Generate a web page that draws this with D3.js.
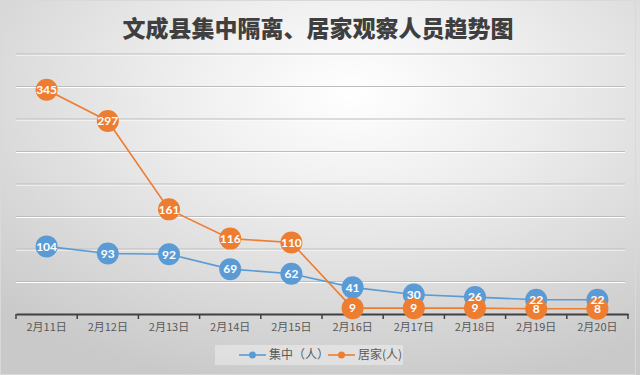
<!DOCTYPE html>
<html>
<head>
<meta charset="utf-8">
<script src="https://cdn.jsdelivr.net/npm/d3@7"></script>
<style>
  html, body { margin: 0; padding: 0; background: #fff; }
  svg { display: block; }
</style>
</head>
<body>
<div id="chart"></div>
<script>
// Chart data
const title = '文成县集中隔离、居家观察人员趋势图';
const dates = ['2月11日', '2月12日', '2月13日', '2月14日', '2月15日', '2月16日', '2月17日', '2月18日', '2月19日', '2月20日'];
const seriesNames = ['集中（人）', '居家(人)'];
const centralized = [104, 93, 92, 69, 62, 41, 30, 26, 22, 22];
const atHome = [345, 297, 161, 116, 110, 9, 9, 9, 8, 8];
const gridValues = [0, 50, 100, 150, 200, 250, 300, 350, 400];

const width = 640, height = 375;
const colors = ['#5B9BD5', '#ED7D31'];
const margin = { top: 54, right: 12, bottom: 61, left: 16 };

const svg = d3.select('#chart')
  .append('svg')
  .attr('width', width)
  .attr('height', height);

// Background gradient
const defs = svg.append('defs');
const grad = defs.append('radialGradient')
  .attr('id', 'bg')
  .attr('cx', '55%').attr('cy', '25%').attr('r', '80%');
grad.append('stop').attr('offset', '0%').attr('stop-color', '#ffffff');
grad.append('stop').attr('offset', '35%').attr('stop-color', '#eeeeee');
grad.append('stop').attr('offset', '100%').attr('stop-color', '#c9c9c9');

svg.append('rect')
  .attr('width', width).attr('height', height)
  .attr('fill', 'url(#bg)');

svg.append('rect')
  .attr('x', 0.5).attr('y', 0.5)
  .attr('width', width - 5).attr('height', height - 1)
  .attr('fill', 'none')
  .attr('stroke', '#d9d9d9');

// Title
svg.append('text')
  .attr('x', 318)
  .attr('y', 37)
  .attr('text-anchor', 'middle')
  .attr('font-family', '"Noto Sans CJK SC", sans-serif')
  .attr('font-size', '23px')
  .attr('font-weight', 900)
  .attr('fill', '#3f3f3f')
  .text(title);

// Scales
const x = d3.scaleBand()
  .domain(dates)
  .range([margin.left, width - margin.right]);

const y = d3.scaleLinear()
  .domain([0, 400])
  .range([height - margin.bottom, margin.top]);

// Gridlines (embossed look)
const grid = svg.append('g');
gridValues.filter(v => v > 0).forEach(v => {
  grid.append('line')
    .attr('x1', margin.left).attr('x2', width - margin.right - 3)
    .attr('y1', y(v) + 1).attr('y2', y(v) + 1)
    .attr('stroke', '#ffffff').attr('stroke-width', 1);
  grid.append('line')
    .attr('x1', margin.left).attr('x2', width - margin.right - 3)
    .attr('y1', y(v)).attr('y2', y(v))
    .attr('stroke', '#bcbcbc').attr('stroke-width', 1);
});

// X axis
const xAxis = svg.append('g')
  .attr('transform', `translate(0,${y(0)})`)
  .call(d3.axisBottom(x)
    .tickSizeInner(0)
    .tickSizeOuter(0)
    .tickPadding(9));

xAxis.select('.domain')
  .attr('stroke', '#404040')
  .attr('stroke-width', 2);

xAxis.selectAll('text')
  .attr('font-family', '"Noto Sans CJK SC", sans-serif')
  .attr('font-size', '11px')
  .attr('fill', '#595959');

// Tick marks at band boundaries
const boundaries = dates.map(d => x(d)).concat([x(dates[dates.length - 1]) + x.bandwidth()]);
xAxis.selectAll('.boundary')
  .data(boundaries)
  .join('line')
  .attr('class', 'boundary')
  .attr('x1', d => d).attr('x2', d => d)
  .attr('y1', 0).attr('y2', 5)
  .attr('stroke', '#404040')
  .attr('stroke-width', 1.5);

// Lines
const cx = d => x(d) + x.bandwidth() / 2;
const allSeries = [centralized, atHome];
const line = d3.line()
  .x((d, i) => cx(dates[i]))
  .y(d => y(d));

allSeries.forEach((vals, s) => {
  svg.append('path')
    .datum(vals)
    .attr('fill', 'none')
    .attr('stroke', colors[s])
    .attr('stroke-width', 1.6)
    .attr('d', line);
});

// Markers
allSeries.forEach((vals, s) => {
  svg.append('g')
    .selectAll('circle')
    .data(vals)
    .join('circle')
    .attr('cx', (d, i) => cx(dates[i]))
    .attr('cy', d => y(d))
    .attr('r', 11)
    .attr('fill', colors[s]);
});

// Labels on top of markers
allSeries.forEach((vals, s) => {
  svg.append('g')
    .selectAll('text')
    .data(vals)
    .join('text')
    .attr('x', (d, i) => cx(dates[i]))
    .attr('y', d => y(d))
    .attr('dy', '0.36em')
    .attr('text-anchor', 'middle')
    .attr('font-family', 'Lato, sans-serif')
    .attr('font-size', '12px')
    .attr('font-weight', 'bold')
    .attr('fill', '#ffffff')
    .text(d => d);
});

// Legend
const legend = svg.append('g');
legend.append('rect')
  .attr('x', 215).attr('y', 345)
  .attr('width', 188).attr('height', 20)
  .attr('fill', '#ffffff').attr('opacity', 0.35);

const legendItems = [
  { x: 239, name: seriesNames[0] },
  { x: 328, name: seriesNames[1] }
];
legendItems.forEach((item, s) => {
  const g = legend.append('g').attr('transform', `translate(${item.x},355)`);
  g.append('line')
    .attr('x1', 0).attr('x2', 27)
    .attr('stroke', colors[s]).attr('stroke-width', 1.6);
  g.append('circle')
    .attr('cx', 13.5).attr('r', 3.5)
    .attr('fill', colors[s]);
  g.append('text')
    .attr('x', 30)
    .attr('dy', '0.35em')
    .attr('font-family', '"Noto Sans CJK SC", sans-serif')
    .attr('font-size', '12px')
    .attr('fill', '#595959')
    .text(item.name);
});
</script>
</body>
</html>
